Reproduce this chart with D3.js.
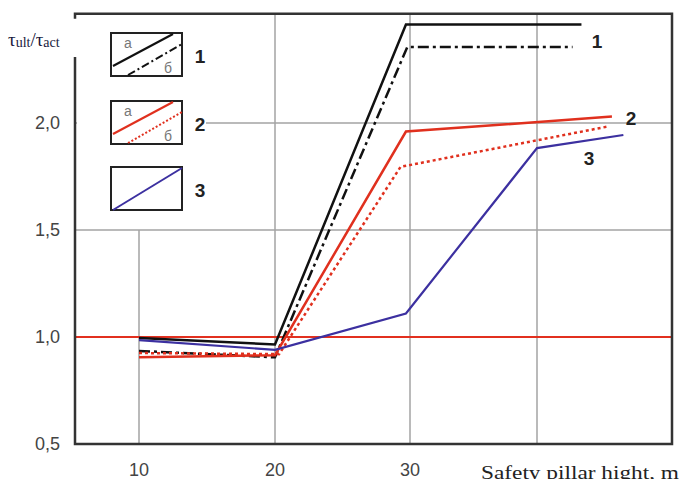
<!DOCTYPE html>
<html>
<head>
<meta charset="utf-8">
<script src="https://cdn.jsdelivr.net/npm/d3@7"></script>
<style>
  html, body { margin: 0; padding: 0; background: #fff; }
  svg { display: block; }
</style>
</head>
<body>
<div id="container"></div>
<script>
/* CONSTANTS AND GLOBALS */
const width = 679,
      height = 479;

/* DATA */
const xTicks = [10, 20, 30, 40];
const xTickLabels = ["10", "20", "30", ""];
const yTicks = [0.5, 1.0, 1.5, 2.0];
const yTickLabels = ["0,5", "1,0", "1,5", "2,0"];

const s1aX = [10, 20, 29.7, 43.5];
const s1aY = [0.995, 0.965, 2.46, 2.46];
const s1bX = [10, 20, 29.8, 42.8];
const s1bY = [0.935, 0.905, 2.355, 2.355];
const s2aX = [10, 20, 29.7, 45.9];
const s2aY = [0.905, 0.915, 1.96, 2.03];
const s2bX = [10, 20.3, 29.3, 45.7];
const s2bY = [0.925, 0.92, 1.795, 1.985];
const s3X = [10, 20, 29.7, 40, 46.8];
const s3Y = [0.985, 0.94, 1.11, 1.883, 1.944];

const refLine = 1.0;
const seriesLabels = ["1", "2", "3"];

// SCALES (gridlines in the picture are not evenly spaced, so piecewise)
const xScale = d3.scaleLinear()
                 .domain(xTicks)
                 .range([139, 275, 410, 537]);

const yScale = d3.scaleLinear()
                 .domain([0.5, 2.0])
                 .range([444, 123]);

const frame = {left: 75, right: 672, top: yScale(2.51), bottom: yScale(0.5)};

const svg = d3.select("#container")
              .append("svg")
              .attr("width", width)
              .attr("height", height)
              .style("font-family", "Liberation Sans, Arial, sans-serif");

// GRIDLINES
const grid = svg.append("g").attr("stroke", "#a3a3a3").attr("stroke-width", 1.5);

grid.selectAll("line.h")
    .data(yTicks.filter(d => d > 0.5 && d !== refLine))
    .join("line")
    .attr("class", "h")
    .attr("x1", frame.left).attr("x2", frame.right)
    .attr("y1", d => yScale(d)).attr("y2", d => yScale(d));

grid.selectAll("line.v")
    .data(xTicks)
    .join("line")
    .attr("class", "v")
    .attr("x1", d => xScale(d)).attr("x2", d => xScale(d))
    .attr("y1", d => d === 10 ? yScale(1.5) : frame.top)
    .attr("y2", frame.bottom);

// reference line at 1,0
svg.append("line")
   .attr("x1", frame.left).attr("x2", frame.right)
   .attr("y1", yScale(refLine)).attr("y2", yScale(refLine))
   .attr("stroke", "#e2301f").attr("stroke-width", 2);

// FRAME
const fr = svg.append("g").attr("stroke", "#333").attr("stroke-width", 2.5).attr("fill", "none");
fr.append("path")
  .attr("d", `M${frame.left},${frame.top + 5}V${frame.top}H${frame.right}V${frame.bottom}H${frame.left}V57`);

// LINES
const lineGen = d3.line()
                  .x(d => xScale(d[0]))
                  .y(d => yScale(d[1]));

const series = [
  {x: s1aX, y: s1aY, color: "#111", w: 2.5, dash: null},
  {x: s1bX, y: s1bY, color: "#111", w: 2.5, dash: "11,4,3,4"},
  {x: s2aX, y: s2aY, color: "#e0301e", w: 2.5, dash: null},
  {x: s2bX, y: s2bY, color: "#e0301e", w: 2.5, dash: "3,3"},
  {x: s3X, y: s3Y, color: "#3c30a0", w: 2.2, dash: null}
];

svg.selectAll("path.line")
   .data(series)
   .join("path")
   .attr("class", "line")
   .attr("fill", "none")
   .attr("stroke", d => d.color)
   .attr("stroke-width", d => d.w)
   .attr("stroke-dasharray", d => d.dash)
   .attr("d", d => lineGen(d3.zip(d.x, d.y)));

// series numbers at line ends
const endLabels = [
  {t: seriesLabels[0], x: 597, y: 48},
  {t: seriesLabels[1], x: 631, y: 125},
  {t: seriesLabels[2], x: 589, y: 165}
];
svg.selectAll("text.end")
   .data(endLabels)
   .join("text")
   .attr("class", "end")
   .attr("x", d => d.x).attr("y", d => d.y)
   .attr("text-anchor", "middle")
   .attr("font-size", 19).attr("font-weight", "bold").attr("fill", "#222")
   .text(d => d.t);

// LEGEND
const leg = svg.append("g");
leg.append("rect").attr("x", 77).attr("y", 24).attr("width", 129).attr("height", 195).attr("fill", "#fff");

const boxes = [
  {y: 33, label: seriesLabels[0], a: series[0], b: series[1]},
  {y: 101, label: seriesLabels[1], a: series[2], b: series[3]},
  {y: 167, label: seriesLabels[2], a: series[4], b: null}
];
boxes.forEach(bx => {
  const g = leg.append("g").attr("transform", `translate(111,${bx.y})`);
  g.append("rect").attr("width", 71).attr("height", 43)
   .attr("fill", "#fff").attr("stroke", "#222").attr("stroke-width", 2);
  if (bx.b) {
    g.append("line").attr("x1", 2).attr("y1", 33).attr("x2", 62).attr("y2", 1)
     .attr("stroke", bx.a.color).attr("stroke-width", 2);
    g.append("line").attr("x1", 17).attr("y1", 42).attr("x2", 71).attr("y2", 11)
     .attr("stroke", bx.b.color).attr("stroke-width", 2)
     .attr("stroke-dasharray", bx.b.dash === "3,3" ? "2,2" : "8,3,2,3");
    g.append("text").attr("x", 17).attr("y", 15).attr("font-size", 14).attr("fill", "#777")
     .attr("text-anchor", "middle").text("а");
    g.append("text").attr("x", 57).attr("y", 40).attr("font-size", 14).attr("fill", "#777")
     .attr("text-anchor", "middle").text("б");
  } else {
    g.append("line").attr("x1", 2).attr("y1", 43).attr("x2", 71).attr("y2", 1)
     .attr("stroke", bx.a.color).attr("stroke-width", 2);
  }
  g.append("text").attr("x", 89).attr("y", 30).attr("text-anchor", "middle")
   .attr("font-size", 19).attr("font-weight", "bold").attr("fill", "#222").text(bx.label);
});

// AXIS LABELS
svg.selectAll("text.ytick")
   .data(yTicks)
   .join("text")
   .attr("class", "ytick")
   .attr("x", 60).attr("y", d => yScale(d) + 6)
   .attr("text-anchor", "end")
   .attr("font-size", 18).attr("fill", "#444")
   .text((d, i) => yTickLabels[i]);

svg.selectAll("text.xtick")
   .data(xTicks)
   .join("text")
   .attr("class", "xtick")
   .attr("x", d => xScale(d)).attr("y", 476)
   .attr("text-anchor", "middle")
   .attr("font-size", 18).attr("fill", "#444")
   .text((d, i) => xTickLabels[i]);

svg.append("text")
   .attr("x", 481).attr("y", 479)
   .attr("font-family", "Liberation Serif, Times New Roman, serif")
   .attr("font-size", 19).attr("fill", "#222")
   .attr("textLength", 198).attr("lengthAdjust", "spacingAndGlyphs")
   .text("Safety pillar hight, m");

const yt = svg.append("text")
   .attr("x", 8).attr("y", 46)
   .attr("font-family", "Liberation Serif, Times New Roman, serif")
   .attr("font-size", 19).attr("fill", "#1a1a40");
yt.append("tspan").text("τ");
yt.append("tspan").attr("font-size", 14).attr("dy", 1).text("ult");
yt.append("tspan").attr("dy", -1).text("/τ");
yt.append("tspan").attr("font-size", 14).attr("dy", 1).text("act");
</script>
</body>
</html>
